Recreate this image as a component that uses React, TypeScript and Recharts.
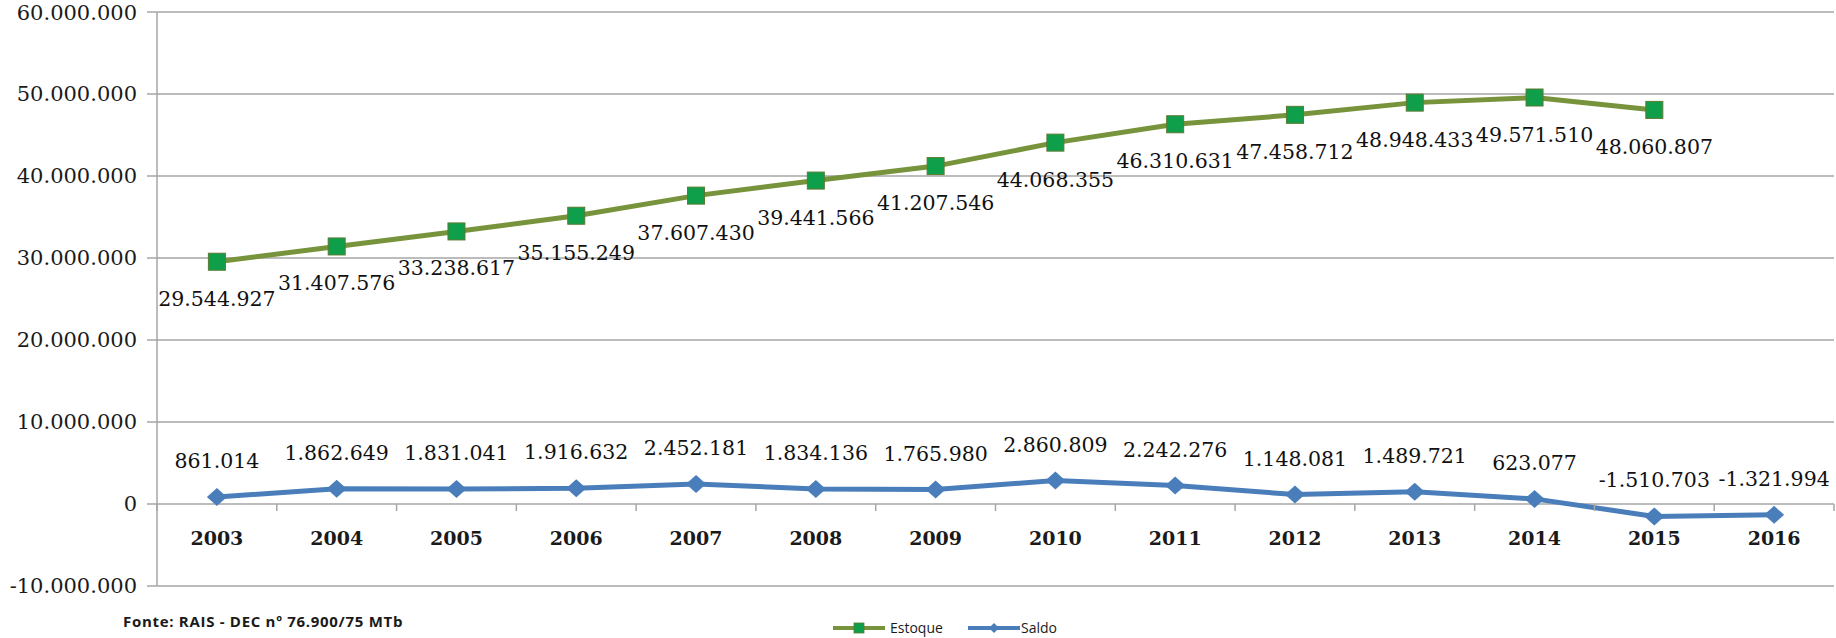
import React from 'react'
import {
  ComposedChart, Line, XAxis, YAxis, CartesianGrid, LabelList,
} from 'recharts'

const years = ['2003', '2004', '2005', '2006', '2007', '2008', '2009', '2010', '2011', '2012', '2013', '2014', '2015', '2016']
const estoque = [29544927, 31407576, 33238617, 35155249, 37607430, 39441566, 41207546, 44068355, 46310631, 47458712, 48948433, 49571510, 48060807, null]
const saldo = [861014, 1862649, 1831041, 1916632, 2452181, 1834136, 1765980, 2860809, 2242276, 1148081, 1489721, 623077, -1510703, -1321994]
const yTicks = [-10000000, 0, 10000000, 20000000, 30000000, 40000000, 50000000, 60000000]
const sourceNote = 'Fonte: RAIS - DEC nº 76.900/75 MTb'

const W = 1836
const H = 638
const X_AXIS_H = 52
const MARGIN = { top: 12, right: 2, bottom: 0, left: 0 }
const Y_AXIS_W = 157
const Y_MIN = yTicks[0]
const Y_MAX = yTicks[yTicks.length - 1]
const PLOT_H = H - MARGIN.top - MARGIN.bottom - X_AXIS_H
const PLOT_W = W - MARGIN.left - MARGIN.right - Y_AXIS_W
const ZERO_Y = MARGIN.top + (PLOT_H * Y_MAX) / (Y_MAX - Y_MIN)
const BAND = PLOT_W / years.length

const OLIVE = '#77933c'
const GREEN = '#0f9f4a'
const BLUE = '#4a7ebb'
const GRID = '#a6a6a6'
const SERIF = '"DejaVu Serif", serif'

const data = years.map((year, i) => ({ year, estoque: estoque[i], saldo: saldo[i] }))

function fmt(v: number) {
  const s = Math.abs(v).toString().replace(/\B(?=(\d{3})+(?!\d))/g, '.')
  return (v < 0 ? '-' : '') + s
}

function YearTick({ x, payload, index }: any) {
  const last = index === years.length - 1
  return (
    <g>
      <line x1={x - BAND / 2} x2={x - BAND / 2} y1={ZERO_Y} y2={ZERO_Y + 7} stroke={GRID} strokeWidth={1.5} />
      {last && <line x1={x + BAND / 2} x2={x + BAND / 2} y1={ZERO_Y} y2={ZERO_Y + 7} stroke={GRID} strokeWidth={1.5} />}
      <text x={x} y={ZERO_Y + 41} textAnchor="middle" fontFamily={SERIF} fontWeight="bold" fontSize={19} fill="#1a1a1a">
        {payload.value}
      </text>
    </g>
  )
}

function SquareDot({ cx, cy, index, value }: any) {
  if (value == null || cx == null || cy == null) return <g key={`sq-${index}`} />
  return <rect key={`sq-${index}`} x={cx - 8.5} y={cy - 8.5} width={17} height={17} fill={GREEN} stroke="#5a7a30" strokeWidth={1} />
}

function DiamondDot({ cx, cy, index }: any) {
  if (cx == null || cy == null) return <g key={`dm-${index}`} />
  return (
    <path
      key={`dm-${index}`}
      d={`M${cx},${cy - 9} L${cx + 10},${cy} L${cx},${cy + 9} L${cx - 10},${cy} Z`}
      fill={BLUE}
    />
  )
}

function estoqueLabel({ x, y, value }: any) {
  if (value == null) return null
  return (
    <text x={x} y={y + 44} textAnchor="middle" fontFamily={SERIF} fontSize={20.5} fill="#111">
      {fmt(value)}
    </text>
  )
}

function saldoLabel({ x, y, value }: any) {
  if (value == null) return null
  return (
    <text x={x} y={y - 29} textAnchor="middle" fontFamily={SERIF} fontSize={20.5} fill="#111">
      {fmt(value)}
    </text>
  )
}

function LegendBox() {
  const font = '"Open Sans", sans-serif'
  return (
    <svg width={260} height={24} style={{ position: 'absolute', left: 830, top: 616 }}>
      <line x1={3} x2={55} y1={12} y2={12} stroke={OLIVE} strokeWidth={4} />
      <rect x={24} y={7} width={10} height={10} fill={GREEN} stroke="#5a7a30" strokeWidth={0.8} />
      <text x={60} y={17} fontFamily={font} fontSize={14} fill="#1a1a1a">Estoque</text>
      <line x1={138} x2={190} y1={12} y2={12} stroke={BLUE} strokeWidth={4} />
      <path d="M164,7 L169,12 L164,17 L159,12 Z" fill={BLUE} />
      <text x={191} y={17} fontFamily={font} fontSize={14} fill="#1a1a1a">Saldo</text>
    </svg>
  )
}

export default function App() {
  return (
    <div style={{ position: 'absolute', left: 0, top: 0, width: W, height: H, background: '#fff', overflow: 'hidden' }}>
      <ComposedChart width={W} height={H} data={data} margin={MARGIN}>
        <CartesianGrid vertical={false} stroke={GRID} strokeWidth={1.5} />
        <XAxis
          dataKey="year"
          height={X_AXIS_H}
          axisLine={false}
          tickLine={false}
          interval={0}
          padding={{ left: BAND / 2, right: BAND / 2 }}
          tick={<YearTick />}
        />
        <YAxis
          width={Y_AXIS_W}
          domain={[Y_MIN, Y_MAX]}
          ticks={yTicks}
          tickFormatter={fmt}
          axisLine={{ stroke: GRID, strokeWidth: 1.5 }}
          tickLine={{ stroke: GRID, strokeWidth: 1.5 }}
          tickSize={10}
          tickMargin={10}
          tick={{ fill: '#1a1a1a', fontSize: 21, fontFamily: SERIF }}
        />
        <Line
          dataKey="estoque"
          stroke={OLIVE}
          strokeWidth={5}
          dot={<SquareDot />}
          activeDot={false}
          isAnimationActive={false}
        >
          <LabelList dataKey="estoque" content={estoqueLabel} />
        </Line>
        <Line
          dataKey="saldo"
          stroke={BLUE}
          strokeWidth={5}
          dot={<DiamondDot />}
          activeDot={false}
          isAnimationActive={false}
        >
          <LabelList dataKey="saldo" content={saldoLabel} />
        </Line>
      </ComposedChart>
      <div
        style={{
          position: 'absolute', left: 123, top: 611, fontFamily: '"Open Sans", sans-serif',
          fontWeight: 700, fontSize: 15, letterSpacing: 0.7, color: '#1a1a1a', whiteSpace: 'nowrap',
        }}
      >
        {sourceNote}
      </div>
      <LegendBox />
    </div>
  )
}
